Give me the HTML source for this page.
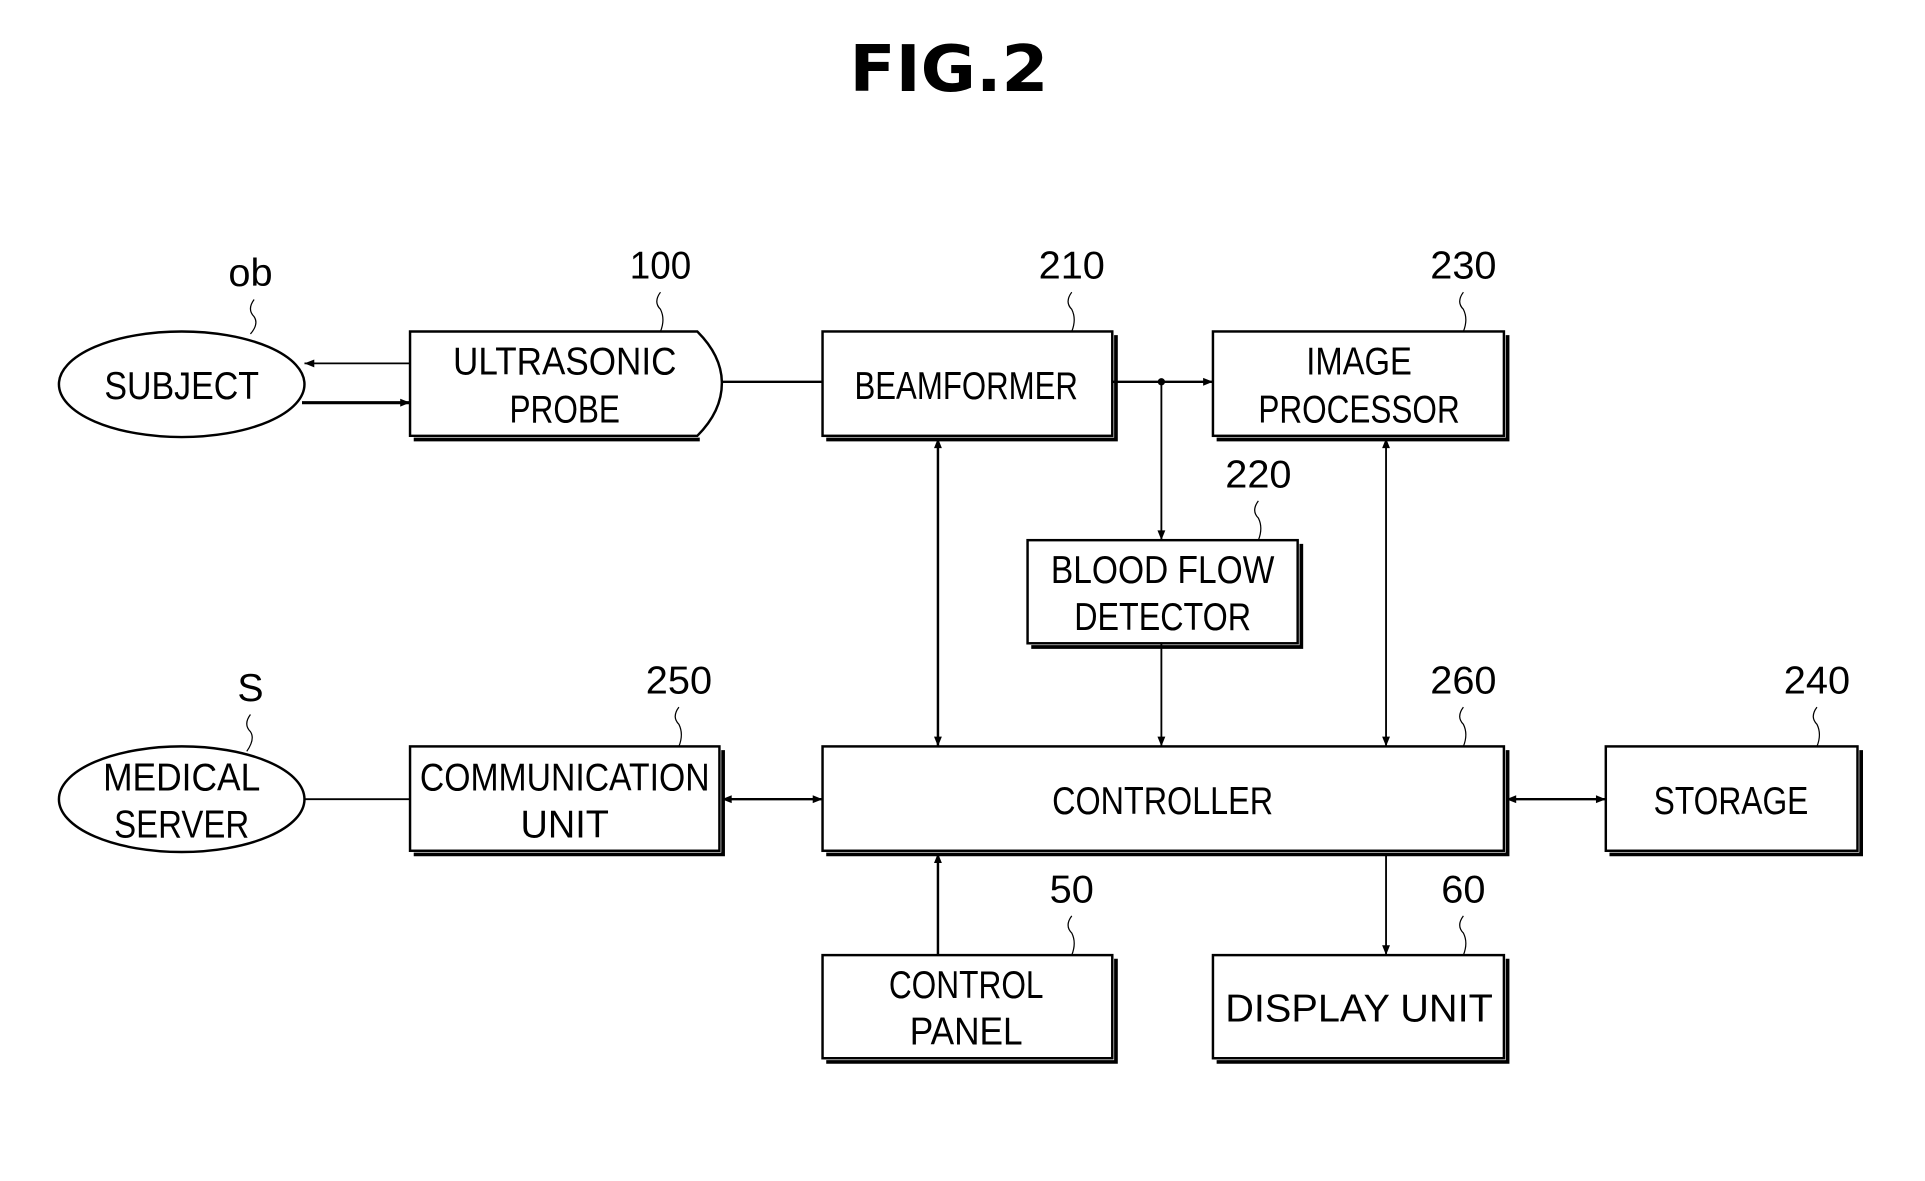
<!DOCTYPE html>
<html><head><meta charset="utf-8"><style>
html,body{margin:0;padding:0;background:#fff;}
svg{display:block}
text{font-family:"Liberation Sans",sans-serif;fill:#000}
</style></head><body>
<svg width="1925" height="1181" viewBox="0 0 1568 962" preserveAspectRatio="none" xmlns="http://www.w3.org/2000/svg">
<defs>
<marker id="a" viewBox="0 0 10 10" refX="10" refY="5" markerWidth="12" markerHeight="8" markerUnits="userSpaceOnUse" orient="auto-start-reverse"><path d="M0,1 L10,5 L0,9 z" fill="#000"/></marker>
</defs>
<text x="773" y="74" font-size="52" font-weight="bold" text-anchor="middle" textLength="162" lengthAdjust="spacingAndGlyphs" style="font-family:'DejaVu Sans','Liberation Sans',sans-serif">FIG.2</text>
<g fill="none" stroke="#000">
<g stroke-width="3">
<path d="M909,273 V358 H673"/>
<path d="M1228,273 V358 H991"/>
<path d="M1060,443 V527 H840"/>
<path d="M1228,611 V696 H673"/>
<path d="M589,611 V696 H337"/>
<path d="M1516,611 V696 H1311"/>
<path d="M909,781 V865 H673"/>
<path d="M1228,781 V865 H991"/>
<path d="M337,358 H570"/>
</g>
<g stroke-width="2" fill="#fff">
<rect x="670" y="270" width="236" height="85"/>
<rect x="988" y="270" width="237" height="85"/>
<rect x="837" y="440" width="220" height="84"/>
<rect x="670" y="608" width="555" height="85"/>
<rect x="334" y="608" width="252" height="85"/>
<rect x="1308" y="608" width="205" height="85"/>
<rect x="670" y="778" width="236" height="84"/>
<rect x="988" y="778" width="237" height="84"/>
<path d="M334,270 H568 Q588,290 588,312 Q588,335 568,355 H334 Z"/>
<ellipse cx="148" cy="313" rx="100" ry="43"/>
<ellipse cx="148" cy="651" rx="100" ry="43"/>
</g>
<g stroke-width="1.5">
<line x1="334" y1="296" x2="248" y2="296" marker-end="url(#a)"/>
<line x1="246" y1="328" x2="334" y2="328" stroke-width="2.5" marker-end="url(#a)"/>
<line x1="588" y1="311" x2="670" y2="311" stroke-width="2"/>
<line x1="906" y1="311" x2="988" y2="311" stroke-width="2" marker-end="url(#a)"/>
<line x1="946" y1="311" x2="946" y2="440" marker-end="url(#a)"/>
<line x1="946" y1="524" x2="946" y2="608" marker-end="url(#a)"/>
<line x1="764" y1="357" x2="764" y2="608" stroke-width="2" marker-start="url(#a)" marker-end="url(#a)"/>
<line x1="1129" y1="357" x2="1129" y2="608" marker-start="url(#a)" marker-end="url(#a)"/>
<line x1="588" y1="651" x2="670" y2="651" stroke-width="2" marker-start="url(#a)" marker-end="url(#a)"/>
<line x1="248" y1="651" x2="334" y2="651"/>
<line x1="1227" y1="651" x2="1308" y2="651" stroke-width="2" marker-start="url(#a)" marker-end="url(#a)"/>
<line x1="764" y1="778" x2="764" y2="695" stroke-width="2" marker-end="url(#a)"/>
<line x1="1129" y1="695" x2="1129" y2="778" marker-end="url(#a)"/>
</g>
<g stroke-width="1">
<path d="M207,244 q-6,8 0,14 q4,6 -3,14"/>
<path d="M538,238 q-6,8 0,14 q4,8 0,18"/>
<path d="M873,238 q-6,8 0,14 q4,8 0,18"/>
<path d="M1192,238 q-6,8 0,14 q4,8 0,18"/>
<path d="M1025,408 q-6,8 0,14 q4,8 0,18"/>
<path d="M204,582 q-6,8 0,14 q4,6 -3,16"/>
<path d="M553,576 q-6,8 0,14 q4,8 0,18"/>
<path d="M1192,576 q-6,8 0,14 q4,8 0,18"/>
<path d="M1480,576 q-6,8 0,14 q4,8 0,18"/>
<path d="M873,746 q-6,8 0,14 q4,8 0,18"/>
<path d="M1192,746 q-6,8 0,14 q4,8 0,18"/>
</g>
</g>
<circle cx="946" cy="311" r="3" fill="#000"/>
<g font-size="32" text-anchor="middle">
<text x="204" y="233" textLength="36" lengthAdjust="spacingAndGlyphs">ob</text>
<text x="538" y="227" textLength="50" lengthAdjust="spacingAndGlyphs">100</text>
<text x="873" y="227" textLength="54" lengthAdjust="spacingAndGlyphs">210</text>
<text x="1192" y="227" textLength="54" lengthAdjust="spacingAndGlyphs">230</text>
<text x="1025" y="397" textLength="54" lengthAdjust="spacingAndGlyphs">220</text>
<text x="204" y="571">S</text>
<text x="553" y="565" textLength="54" lengthAdjust="spacingAndGlyphs">250</text>
<text x="1192" y="565" textLength="54" lengthAdjust="spacingAndGlyphs">260</text>
<text x="1480" y="565" textLength="54" lengthAdjust="spacingAndGlyphs">240</text>
<text x="873" y="735" textLength="36" lengthAdjust="spacingAndGlyphs">50</text>
<text x="1192" y="735" textLength="36" lengthAdjust="spacingAndGlyphs">60</text>
</g>
<g font-size="32" text-anchor="middle">
<text x="148" y="325" textLength="126" lengthAdjust="spacingAndGlyphs">SUBJECT</text>
<text x="460" y="305" textLength="182" lengthAdjust="spacingAndGlyphs">ULTRASONIC</text>
<text x="460" y="344" textLength="90" lengthAdjust="spacingAndGlyphs">PROBE</text>
<text x="787" y="325" textLength="182" lengthAdjust="spacingAndGlyphs">BEAMFORMER</text>
<text x="1107" y="305" textLength="86" lengthAdjust="spacingAndGlyphs">IMAGE</text>
<text x="1107" y="344" textLength="164" lengthAdjust="spacingAndGlyphs">PROCESSOR</text>
<text x="947" y="475" textLength="182" lengthAdjust="spacingAndGlyphs">BLOOD FLOW</text>
<text x="947" y="513" textLength="144" lengthAdjust="spacingAndGlyphs">DETECTOR</text>
<text x="148" y="644" textLength="128" lengthAdjust="spacingAndGlyphs">MEDICAL</text>
<text x="148" y="682" textLength="110" lengthAdjust="spacingAndGlyphs">SERVER</text>
<text x="460" y="644" textLength="236" lengthAdjust="spacingAndGlyphs">COMMUNICATION</text>
<text x="460" y="682" textLength="72" lengthAdjust="spacingAndGlyphs">UNIT</text>
<text x="947" y="663" textLength="180" lengthAdjust="spacingAndGlyphs">CONTROLLER</text>
<text x="1410" y="663" textLength="126" lengthAdjust="spacingAndGlyphs">STORAGE</text>
<text x="787" y="813" textLength="126" lengthAdjust="spacingAndGlyphs">CONTROL</text>
<text x="787" y="851" textLength="92" lengthAdjust="spacingAndGlyphs">PANEL</text>
<text x="1107" y="832" font-size="30" textLength="218" lengthAdjust="spacingAndGlyphs" transform="translate(1107 832) scale(1 1.05) translate(-1107 -832)">DISPLAY UNIT</text>
</g>
</svg>
</body></html>
